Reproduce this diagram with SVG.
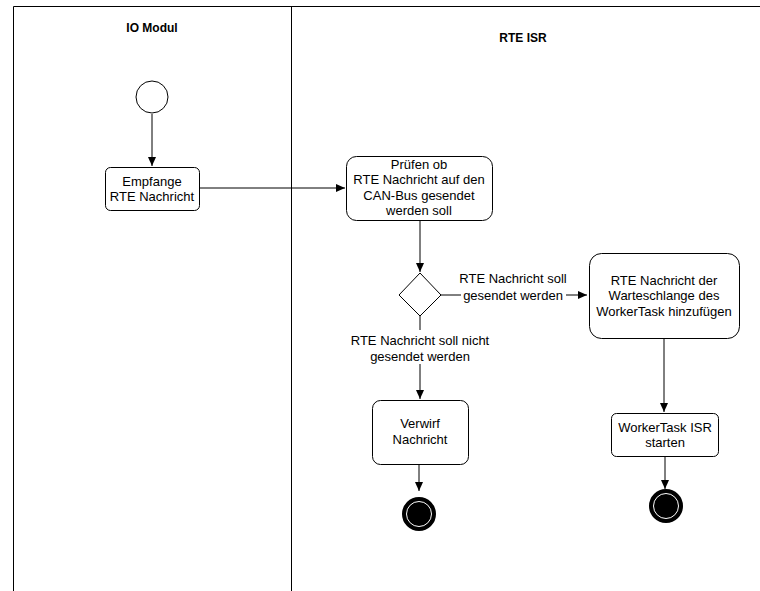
<svg xmlns="http://www.w3.org/2000/svg" width="760" height="591" viewBox="0 0 760 591">
<style>
text{font-family:"Liberation Sans",Arial,sans-serif;font-size:13px;fill:#000;text-anchor:middle}
.t{font-weight:bold;font-size:12px}
.box{fill:#fff;stroke:#000;stroke-width:1}
.lane{fill:none;stroke:#000;stroke-width:1}
.c{fill:none;stroke:#000;stroke-width:1}
</style>
<defs>
<marker id="ah" markerWidth="10" markerHeight="10" refX="9" refY="5" orient="auto" markerUnits="userSpaceOnUse">
<path d="M0,1 L9,5 L0,9 Z" fill="#000"/>
</marker>
</defs>
<rect width="760" height="591" fill="#fff"/>
<g id="lanes">
<path class="lane" d="M13.5,591 V6.5 H760 M291.5,6.5 V591"/>
<text class="t" x="152" y="32">IO Modul</text>
<text class="t" x="523" y="42">RTE ISR</text>
</g>
<g id="connectors">
<path class="c" d="M152,114 V166" marker-end="url(#ah)"/>
<path class="c" d="M199,188 H345" marker-end="url(#ah)"/>
<path class="c" d="M420,221 V272" marker-end="url(#ah)"/>
<path class="c" d="M441,295 H587" marker-end="url(#ah)"/>
<path class="c" d="M420,316 V399" marker-end="url(#ah)"/>
<path class="c" d="M664,338 V412" marker-end="url(#ah)"/>
<path class="c" d="M419,464 V491" marker-end="url(#ah)"/>
<path class="c" d="M665,456 V489" marker-end="url(#ah)"/>
<rect x="461" y="268" width="105" height="34" fill="#fff"/>
<text x="513" y="283">RTE Nachricht soll</text>
<text x="513" y="300">gesendet werden</text>
<rect x="346" y="330" width="148" height="34" fill="#fff"/>
<text x="420" y="345">RTE Nachricht soll nicht</text>
<text x="420" y="361">gesendet werden</text>
</g>
<g id="start"><circle cx="152" cy="97" r="16" fill="#fff" stroke="#000"/></g>
<g id="empfange">
<rect class="box" x="105.5" y="167.5" width="94" height="43" rx="5"/>
<text x="152" y="186">Empfange</text>
<text x="152" y="201">RTE Nachricht</text>
</g>
<g id="pruefen">
<rect class="box" x="346.5" y="156.5" width="146" height="64" rx="10"/>
<text x="419" y="169">Prüfen ob</text>
<text x="419" y="184">RTE Nachricht auf den</text>
<text x="419" y="200">CAN-Bus gesendet</text>
<text x="419" y="215">werden soll</text>
</g>
<g id="decision"><path class="box" d="M420,273 L441,295 L420,316 L399,295 Z"/></g>
<g id="warteschlange">
<rect class="box" x="589.5" y="253.5" width="150" height="85" rx="12"/>
<text x="664" y="285">RTE Nachricht der</text>
<text x="664" y="300">Warteschlange des</text>
<text x="664" y="316">WorkerTask hinzufügen</text>
</g>
<g id="verwirf">
<rect class="box" x="372.5" y="400.5" width="96" height="64" rx="8"/>
<text x="420" y="428">Verwirf</text>
<text x="420" y="444">Nachricht</text>
</g>
<g id="workertask">
<rect class="box" x="611.5" y="413.5" width="107" height="43" rx="5"/>
<text x="665" y="432">WorkerTask ISR</text>
<text x="665" y="447">starten</text>
</g>
<g id="end1">
<circle cx="419" cy="514" r="16" fill="#000" stroke="#000" stroke-width="2"/>
<circle cx="419" cy="514" r="12.5" fill="#000" stroke="#fff" stroke-width="1"/>
</g>
<g id="end2">
<circle cx="666" cy="506" r="16" fill="#000" stroke="#000" stroke-width="2"/>
<circle cx="666" cy="506" r="12.5" fill="#000" stroke="#fff" stroke-width="1"/>
</g>
</svg>
